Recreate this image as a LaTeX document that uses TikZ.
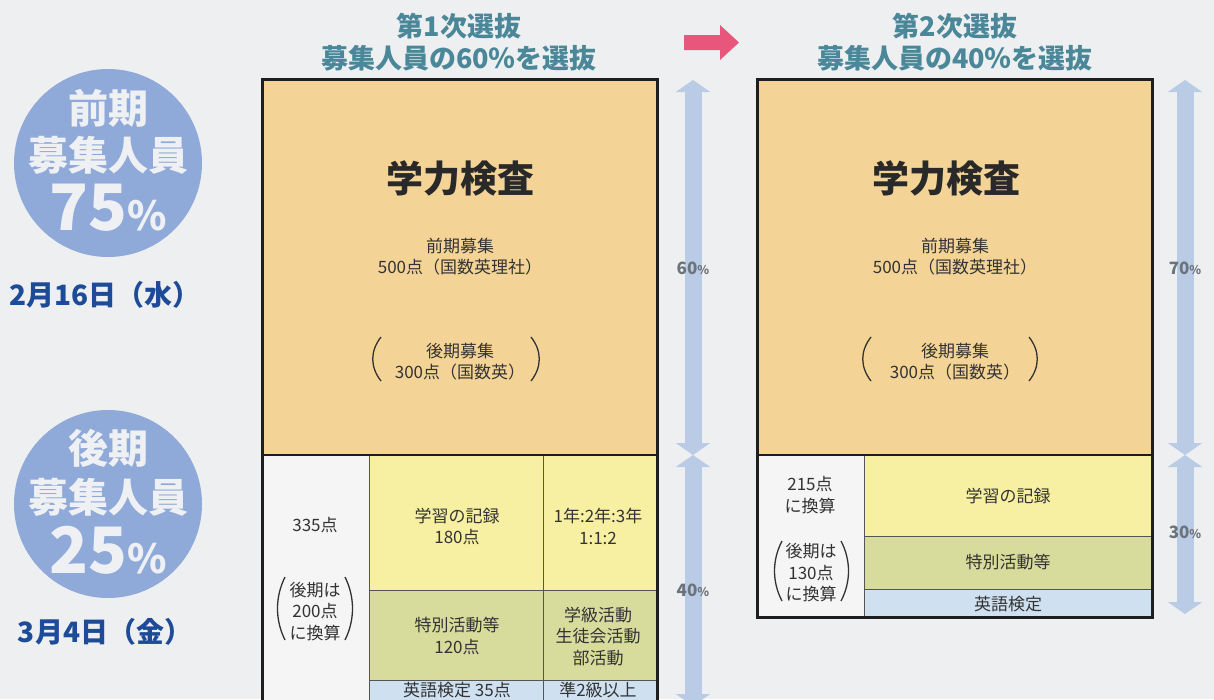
\documentclass[tikz,border=0pt]{standalone}
\usepackage{fontspec}
\newfontfamily\jp{Noto Sans CJK JP}
\usetikzlibrary{arrows.meta}
\definecolor{bgc}{HTML}{EEEFF0}
\definecolor{orc}{HTML}{F4D496}
\definecolor{yelc}{HTML}{F7F0A2}
\definecolor{grc}{HTML}{D7DB9C}
\definecolor{blc}{HTML}{CFE1F1}
\definecolor{whc}{HTML}{F5F5F5}
\definecolor{txtc}{HTML}{333333}
\definecolor{headc}{HTML}{4A8799}
\definecolor{circc}{HTML}{8FAAD9}
\definecolor{circtc}{HTML}{EEF0F3}
\definecolor{datec}{HTML}{1D4B98}
\definecolor{pctc}{HTML}{6B747D}
\definecolor{arrc}{HTML}{BACBE6}
\definecolor{pinkc}{HTML}{E9567B}
\definecolor{bordc}{HTML}{1E1E1E}
\definecolor{linec}{HTML}{555555}
\begin{document}
\begin{tikzpicture}[x=1pt,y=-1pt,
 txt/.style={text=txtc, font=\jp\fontsize{17}{21.5}\selectfont, align=center, inner sep=0pt},
 bigtxt/.style={text=txtc!80!black, font=\jp\bfseries\fontsize{37}{37}\selectfont, inner sep=0pt},
 headtxt/.style={text=headc, font=\jp\bfseries\fontsize{27}{27}\selectfont, inner sep=0pt},
 circ/.style={circle, fill=circc, minimum size=188pt, inner sep=0pt},
 circtxt/.style={text=circtc, font=\jp\bfseries\fontsize{40}{40}\selectfont, inner sep=0pt},
 datetxt/.style={text=datec, font=\jp\bfseries\fontsize{28}{28}\selectfont, inner sep=0pt},
 pcttxt/.style={text=pctc, font=\jp\bfseries\fontsize{17}{17}\selectfont, inner sep=0pt},
 paren/.style={draw=txtc, line width=1.3pt},
 barrow/.style={draw=arrc, line width=17pt, {Triangle[width=34pt,length=12pt]}-{Triangle[width=34pt,length=12pt]}},
 cellline/.style={draw=linec, line width=0.8pt},
 outer/.style={draw=bordc, line width=3pt},
 midline/.style={draw=bordc, line width=2pt},
]
\fill[bgc] (0,0) rectangle (1214,699);
\useasboundingbox (0,0) rectangle (1214,699);

% ---------- circles ----------
\node[circ] (c1) at (108,163) {};
\node[circtxt] (c1a) at (108,108) {前期};
\node[circtxt] (c1b) at (108,155) {募集人員};
\node[circtxt] (c1c) at (108,208) {\fontsize{64}{64}\selectfont 75\fontsize{40}{40}\selectfont\%};
\node[datetxt] (d1) at (105,295) {2月16日（水）};

\node[circ] (c2) at (108,504) {};
\node[circtxt] (c2a) at (108,448) {後期};
\node[circtxt] (c2b) at (108,497) {募集人員};
\node[circtxt] (c2c) at (108,550) {\fontsize{64}{64}\selectfont 25\fontsize{40}{40}\selectfont\%};
\node[datetxt] (d2) at (105,632) {3月4日（金）};

% ---------- headers ----------
\node[headtxt] (h1a) at (459,26) {第1次選抜};
\node[headtxt] (h1b) at (459,58) {募集人員の60％を選抜};
\node[headtxt] (h2a) at (955,26) {第2次選抜};
\node[headtxt] (h2b) at (955,58) {募集人員の40％を選抜};
\fill[pinkc] (684,35) -- (720,35) -- (720,25) -- (739,42.5) -- (720,60) -- (720,50) -- (684,50) -- cycle;

% ---------- left box ----------
\fill[orc] (262,79) rectangle (657,455);
\fill[whc] (262,455) rectangle (369,712);
\fill[yelc] (369,455) rectangle (657,590);
\fill[grc] (369,590) rectangle (657,680);
\fill[blc] (369,680) rectangle (657,712);
\draw[cellline] (369,455) -- (369,712);
\draw[cellline] (543,455) -- (543,712);
\draw[cellline] (369,590) -- (657,590);
\draw[cellline] (369,680) -- (657,680);
\draw[midline] (262,455) -- (657,455);
\draw[outer] (262,712) -- (262,79) -- (657,79) -- (657,712);

\node[bigtxt] (lt) at (460,178) {学力検査};
\node[txt] (lz) at (460,256.5) {前期募集\\500点（国数英理社）};
\node[txt] (lk) at (460,361.5) {後期募集\\300点（国数英）};
\draw[paren] (381,337) .. controls (370,351) and (370,367) .. (381,381);
\draw[paren] (531,337) .. controls (542,351) and (542,367) .. (531,381);

\node[txt] (l335) at (315,525) {335点};
\node[txt] (l200) at (315,611.5) {後期は\\200点\\に換算};
\draw[paren] (285,577) .. controls (275,597) and (275,620) .. (285,640);
\draw[paren] (345,577) .. controls (355,597) and (355,620) .. (345,640);
\node[txt] (lgk) at (457,526.5) {学習の記録\\180点};
\node[txt] (lyr) at (598,526.5) {1年:2年:3年\\1:1:2};
\node[txt] (ltk) at (457,636) {特別活動等\\120点};
\node[txt] (lact) at (598,636.5) {学級活動\\生徒会活動\\部活動};
\node[txt] (leng) at (457,690.5) {英語検定 35点};
\node[txt] (lpre) at (598,690.5) {準2級以上};

% ---------- right box ----------
\fill[orc] (757,79) rectangle (1152,455);
\fill[whc] (757,455) rectangle (864,617);
\fill[yelc] (864,455) rectangle (1152,536);
\fill[grc] (864,536) rectangle (1152,589);
\fill[blc] (864,589) rectangle (1152,617);
\draw[cellline] (864,455) -- (864,617);
\draw[cellline] (864,536) -- (1152,536);
\draw[cellline] (864,589) -- (1152,589);
\draw[midline] (757,455) -- (1152,455);
\draw[outer] (757,79) rectangle (1152,617);

\node[bigtxt] (rt) at (946,178) {学力検査};
\node[txt] (rz) at (955,256.5) {前期募集\\500点（国数英理社）};
\node[txt] (rk) at (955,361.5) {後期募集\\300点（国数英）};
\draw[paren] (871,337) .. controls (860,351) and (860,367) .. (871,381);
\draw[paren] (1029,337) .. controls (1040,351) and (1040,367) .. (1029,381);

\node[txt] (r215) at (810,495) {215点\\に換算};
\node[txt] (r130) at (811,573) {後期は\\130点\\に換算};
\draw[paren] (782,541) .. controls (772,560) and (772,582) .. (782,601);
\draw[paren] (841,541) .. controls (851,560) and (851,582) .. (841,601);
\node[txt] (rgk) at (1008,496) {学習の記録};
\node[txt] (rtk) at (1008,562) {特別活動等};
\node[txt] (reng) at (1008,604) {英語検定};

% ---------- percentage arrows ----------
\coordinate (la1) at (693,80);
\coordinate (la2) at (693,455);
\coordinate (la3) at (693,706);
\coordinate (ra1) at (1185,80);
\coordinate (ra2) at (1185,455);
\coordinate (ra3) at (1185,614);
\draw[barrow] (la1) -- (la2);
\draw[barrow] (la2) -- (la3);
\draw[barrow] (ra1) -- (ra2);
\draw[barrow] (ra2) -- (ra3);
\node[pcttxt] (p60) at (693,268) {60\fontsize{12}{12}\selectfont\%};
\node[pcttxt] (p40) at (693,590) {40\fontsize{12}{12}\selectfont\%};
\node[pcttxt] (p70) at (1185,268) {70\fontsize{12}{12}\selectfont\%};
\node[pcttxt] (p30) at (1185,532) {30\fontsize{12}{12}\selectfont\%};
\end{tikzpicture}
\end{document}
